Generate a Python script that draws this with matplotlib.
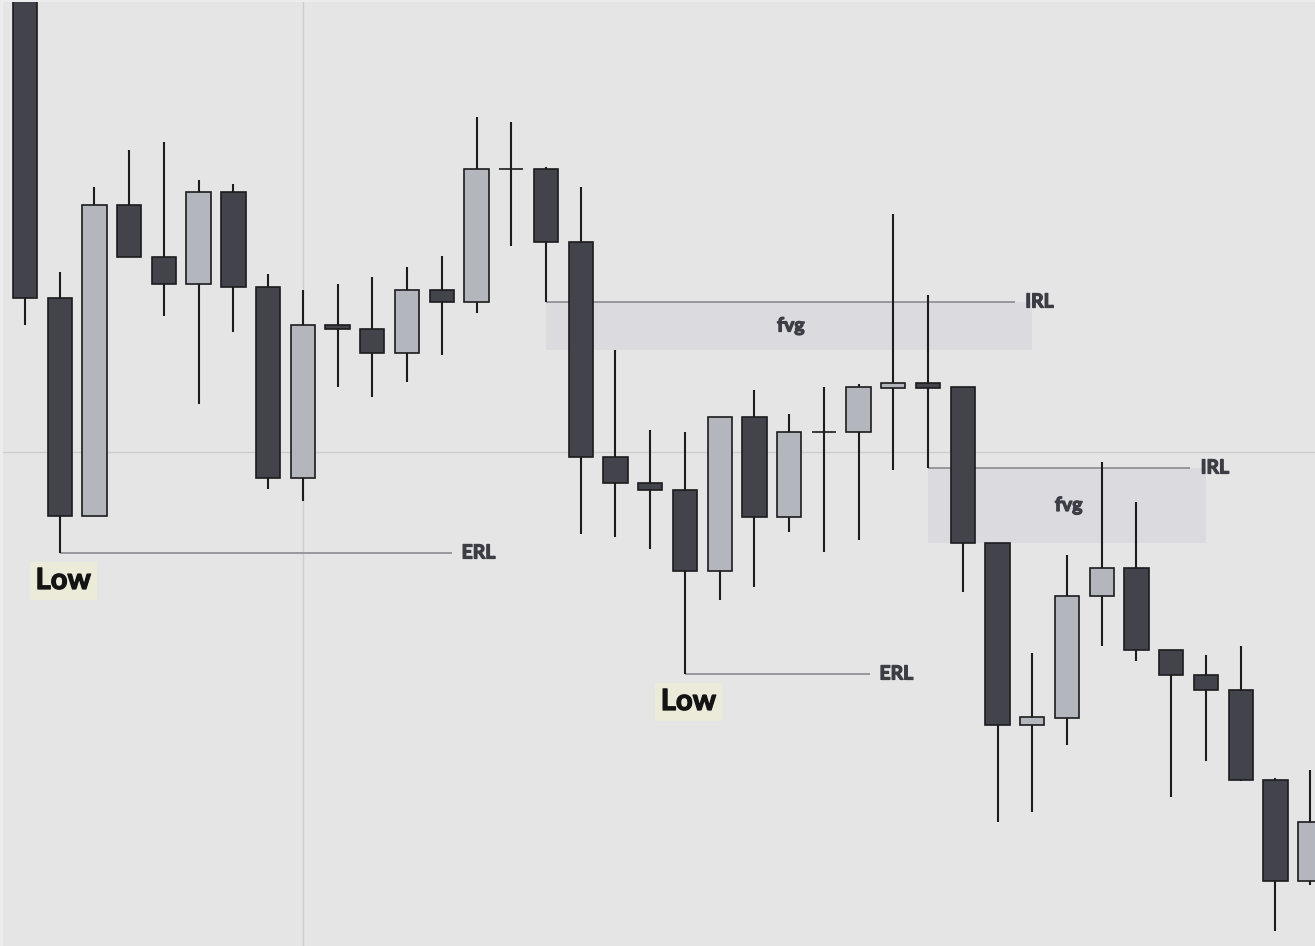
import matplotlib.pyplot as plt
import matplotlib.patheffects as pe
from matplotlib.patches import Rectangle

# candle data (arbitrary price units), left to right
opens = [103.0, 70.2, 48.4, 79.5, 74.3, 71.6, 80.8, 71.3, 52.2, 67.5,
         67.1, 64.7, 71.0, 69.8, 83.1, 83.1, 75.8, 54.3, 51.7, 51.0,
         42.9, 58.3, 48.3, 56.8, 56.8, 61.2, 61.7, 61.3, 45.7, 27.5,
         28.2, 40.4, 43.2, 35.0, 32.5, 31.0, 22.0, 11.9]
highs = [104.0, 72.8, 81.3, 85.0, 85.8, 82.0, 81.6, 72.6, 71.0, 71.6,
         72.3, 73.3, 74.4, 88.3, 87.8, 83.3, 81.3, 65.0, 57.0, 56.8,
         58.3, 61.0, 58.6, 61.3, 61.6, 78.6, 70.5, 61.3, 45.7, 34.7,
         44.5, 53.8, 49.8, 35.0, 34.5, 35.4, 22.2, 23.0]
lows = [67.5, 44.7, 48.4, 74.3, 68.4, 59.6, 66.8, 51.1, 49.9, 61.3,
        60.3, 61.8, 64.5, 68.7, 75.4, 69.8, 46.6, 46.3, 45.1, 32.6,
        40.0, 41.3, 46.8, 44.8, 46.0, 53.0, 53.2, 40.8, 17.8, 18.8,
        25.5, 35.4, 33.9, 20.3, 23.9, 21.9, 6.9, 11.5]
closes = [70.2, 48.4, 79.5, 74.3, 71.6, 80.8, 71.3, 52.2, 67.5, 67.1,
          64.7, 71.0, 69.8, 83.1, 83.1, 75.8, 54.3, 51.7, 51.0, 42.9,
          58.3, 48.3, 56.8, 56.8, 61.3, 61.7, 61.2, 45.7, 27.5, 28.3,
          40.4, 43.2, 35.0, 32.5, 31.0, 22.0, 11.9, 17.8]

# annotations: (gap start candle, right end of box, right end of IRL line)
fvg_zones = [(15, 29.0, 28.5), (26, 34.0, 33.55)]
erl_lines = [(1, 12.3), (19, 24.33)]

dark = "#42434b"
light = "#b4b6bd"
edge = "#1c1c1e"
annot = "#3c3d45"

fig = plt.figure(figsize=(13.15, 9.46), dpi=100, facecolor="#ececec")
ax = fig.add_axes([3 / 1315, 0, 1312 / 1315, 944 / 946])
ax.set_facecolor("#e5e5e5")
ax.set_xlim(-0.633, 37.14)
ax.set_ylim(5.4, 99.8)
ax.set_xticks([])
ax.set_yticks([])
for s in ax.spines.values():
    s.set_visible(False)


def label(x, y, s, size, color, **kw):
    # thicken the glyphs a little, the reference uses a heavy font
    t = ax.text(x, y, s, fontsize=size, fontweight="bold", color=color,
                family="Lato", va="center", **kw)
    t.set_path_effects([pe.withStroke(linewidth=0.9, foreground=color)])
    return t


# crosshair
ax.axvline(8, color="#cdcdcd", lw=1, zorder=0)
ax.axhline(54.8, color="#cdcdcd", lw=1, zorder=0)

# fair value gaps + IRL lines
for i, box_end, line_end in fvg_zones:
    top = lows[i]
    bot = highs[i + 2]
    ax.add_patch(Rectangle((i, bot), box_end - i, top - bot,
                           facecolor="#dadadf", edgecolor="none", zorder=1))
    ax.hlines(top, i, line_end, color="#8c8c90", lw=1.2, zorder=1.5)
    label(line_end + 0.3, top, "IRL", 14, annot, ha="left")
    label((i + box_end) / 2 + 0.05, (top + bot) / 2, "fvg", 14, annot,
          ha="center")

# ERL lines and Low labels
for i, line_end in erl_lines:
    y = lows[i]
    ax.hlines(y, i, line_end, color="#8c8c90", lw=1.2, zorder=1.5)
    label(line_end + 0.27, y, "ERL", 14, annot, ha="left")
    t = label(i + 0.1, y - 2.8, "Low", 21, "#141414", ha="center")
    t.set_bbox(dict(boxstyle="square,pad=0.2", facecolor="#ecead8",
                    edgecolor="none"))

# candles
for i in range(len(opens)):
    o, h, l, c = opens[i], highs[i], lows[i], closes[i]
    col = light if c > o else dark
    ax.vlines(i, l, h, color=edge, lw=1.5, zorder=2)
    ax.bar(i, abs(c - o), bottom=min(o, c), width=0.7, color=col,
           edgecolor=edge, linewidth=1.2, zorder=3)

fig.savefig("out.png", dpi=100, facecolor=fig.get_facecolor())
